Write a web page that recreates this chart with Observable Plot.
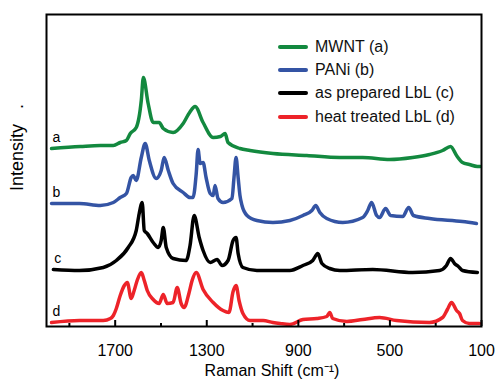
<!DOCTYPE html>
<html>
<head>
<meta charset="utf-8">
<script src="https://cdn.jsdelivr.net/npm/d3@7"></script>
<script src="https://cdn.jsdelivr.net/npm/@observablehq/plot@0.6"></script>
<style>
  body { margin: 0; background: #fff; }
  #chart { position: relative; width: 498px; height: 380px; font-family: "Liberation Sans", Arial, sans-serif; }
  .legend { position: absolute; left: 278px; top: 35px; font-size: 16px; color: #111; }
  .legend .row { display: flex; align-items: center; height: 23.3px; white-space: nowrap; }
  .legend .swatch { width: 30px; height: 4px; border-radius: 2px; margin-right: 7px; }
</style>
</head>
<body>
<div id="chart"></div>
<script>
// Raman shift (cm-1) and stacked intensity (a.u.) for each spectrum
const shiftA = [1978,1852,1765,1708,1678,1651,1634,1608,1586,1577,1556,1534,1508,1490,1447,1403,1375,1351,1316,1272,1240,1220,1207,1155,1111,1011,863,719,619,501,401,327,270,235,209,183,153,118,105];
const intensityA = [178,180,181,181,184,186,193,199,226,249,223,204,204,198,194,203,214,220,204,189,190,193,184,178,176,173,171,169,169,167,169,172,176,180,171,164,162,160,160];

const shiftB = [1978,1856,1765,1708,1678,1651,1630,1621,1608,1586,1569,1551,1521,1499,1486,1468,1447,1403,1373,1360,1346,1338,1329,1316,1303,1285,1272,1264,1251,1229,1190,1181,1172,1163,1155,1146,1124,1081,1011,937,880,841,824,806,776,706,619,597,580,558,545,519,497,444,418,397,327,183,122];
const intensityB = [123,123,121,124,129,133,149,151,146,169,183,166,148,156,169,156,143,134,129,129,153,177,163,164,149,133,131,141,128,124,128,149,169,149,131,121,111,106,104,106,111,116,121,114,108,104,109,116,124,111,109,118,111,110,119,111,108,105,103];

const shiftC = [1970,1856,1752,1695,1643,1608,1595,1582,1573,1560,1534,1512,1499,1490,1477,1447,1390,1373,1355,1333,1316,1285,1255,1233,1207,1185,1172,1163,1142,1081,937,880,837,815,797,763,719,575,401,283,253,235,218,201,183,118];
const intensityC = [57,56,59,66,79,96,113,124,96,93,84,79,86,99,79,68,66,81,111,89,76,64,67,61,66,86,89,73,59,56,56,61,66,73,63,58,56,57,54,56,61,68,63,60,56,54];

const shiftD = [1978,1856,1752,1721,1708,1695,1678,1660,1647,1630,1617,1604,1586,1573,1560,1534,1508,1490,1473,1447,1429,1412,1399,1377,1364,1346,1316,1272,1229,1203,1185,1172,1159,1142,1111,1054,1011,980,937,880,819,776,763,750,688,619,545,471,327,270,249,231,209,196,183,153,109];
const intensityD = [4,6,6,8,11,18,31,41,44,28,36,46,54,46,36,27,23,32,23,24,39,23,19,34,46,54,37,24,16,14,35,41,26,13,6,6,4,3,2,7,8,10,14,8,5,7,9,6,4,9,17,24,16,13,6,3,3];

const seriesLabels = ["a", "b", "c", "d"];
const seriesNames = ["MWNT (a)", "PANi (b)", "as prepared LbL (c)", "heat treated LbL (d)"];
const seriesColors = ["#13893f", "#3454a4", "#000000", "#ed2329"];
const majorTicks = [1700, 1300, 900, 500, 100];
const minorTicks = [1900, 1500, 1100, 700, 300];

const shifts = [shiftA, shiftB, shiftC, shiftD];
const intensities = [intensityA, intensityB, intensityC, intensityD];

const series = seriesLabels.map((label, k) => ({
  label,
  name: seriesNames[k],
  color: seriesColors[k],
  points: shifts[k].map((s, i) => ({shift: s, intensity: intensities[k][i]}))
}));

const chart = Plot.plot({
  width: 498,
  height: 380,
  marginLeft: 46,
  marginRight: 17,
  marginTop: 14,
  marginBottom: 54,
  style: {fontFamily: "'Liberation Sans', Arial, sans-serif", background: "white", color: "black"},
  x: {domain: [2000, 100]},
  y: {domain: [0, 312], axis: null},
  marks: [
    ...series.map(s => Plot.line(s.points, {
      x: "shift", y: "intensity", stroke: s.color, strokeWidth: 3.5,
      curve: "monotone-x", strokeLinejoin: "round", strokeLinecap: "round"
    })),
    // curve letters sit just above the start of each spectrum
    Plot.text(series, {
      x: s => s.points[0].shift, y: s => s.points[0].intensity,
      text: "label", dy: -11, dx: 1, textAnchor: "start", fontSize: 14
    }),
    Plot.tickX(majorTicks, {x: d => d, insetTop: 306, strokeWidth: 2}),
    Plot.tickX(minorTicks, {x: d => d, insetTop: 309, strokeWidth: 2}),
    Plot.axisX({ticks: majorTicks, tickSize: 0, tickPadding: 18, fontSize: 16, label: null, tickFormat: d => String(d)}),
    Plot.frame({stroke: "black", strokeWidth: 2}),
    Plot.text(["Raman Shift (cm\u207B\u00B9)"], {text: d => d, frameAnchor: "bottom", dy: 49, dx: 8, fontSize: 16}),
    Plot.text(["Intensity\u00A0\u00A0\u00A0."], {text: d => d, frameAnchor: "left", textAnchor: "middle", rotate: -90, dx: -29, dy: -23, fontSize: 18})
  ]
});

const root = document.getElementById("chart");
root.appendChild(chart);

// legend: colour swatch followed by series name
const legend = document.createElement("div");
legend.className = "legend";
for (const s of series) {
  const row = document.createElement("div");
  row.className = "row";
  const sw = document.createElement("div");
  sw.className = "swatch";
  sw.style.background = s.color;
  const txt = document.createElement("span");
  txt.textContent = s.name;
  row.appendChild(sw);
  row.appendChild(txt);
  legend.appendChild(row);
}
root.appendChild(legend);
</script>
</body>
</html>
